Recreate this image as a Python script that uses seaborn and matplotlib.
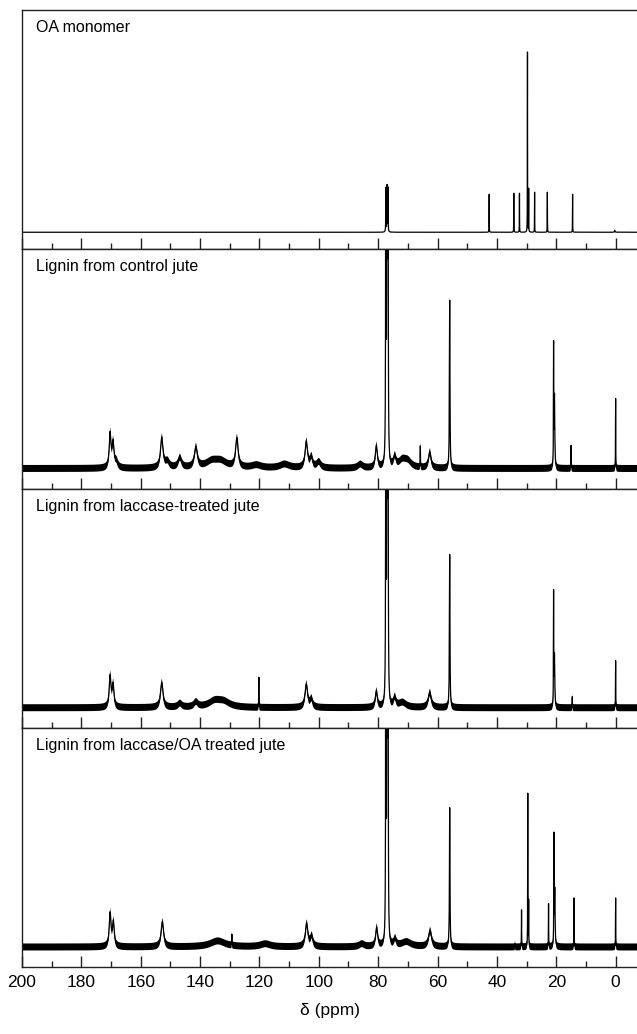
import numpy as np
import pandas as pd
import seaborn as sns
import matplotlib.pyplot as plt
from matplotlib.ticker import MultipleLocator

##############################################################################
# 13C NMR spectra, peaks
# heights are in pixels above the local baseline, widths are HWHM in ppm

titles = ["OA monomer",
          "Lignin from control jute",
          "Lignin from laccase-treated jute",
          "Lignin from laccase/OA treated jute"]

oa_pos = [77.4, 77.0, 76.7, 42.6, 34.3, 32.4, 29.7, 29.3, 27.3, 23.0, 14.5, 0.3]
oa_h   = [44, 46, 44, 38, 39, 39, 180, 43, 40, 40, 38, 2]
oa_w   = [0.05, 0.05, 0.05, 0.03, 0.03, 0.03, 0.03, 0.03, 0.03, 0.03, 0.03, 0.1]

ctrl_pos = [170.3, 169.3, 168.2, 152.9, 151.0, 146.8, 141.4, 136.0, 133.0, 127.6,
            121.0, 111.5, 104.2, 102.5, 100.0, 86.0, 80.6, 77.4, 77.0, 76.7,
            74.4, 71.8, 70.0, 65.8, 62.6, 55.9, 20.9, 20.6, 15.0, 0.0]
ctrl_h   = [34, 24, 6, 30, 6, 10, 20, 6, 6, 29,
            3, 4, 26, 10, 6, 4, 22, 1000, 1000, 1000,
            10, 7, 6, 21, 16, 168, 118, 72, 23, 70]
ctrl_w   = [0.35, 0.35, 0.6, 0.5, 0.8, 0.7, 0.6, 2.5, 2.5, 0.5,
            2.0, 2.0, 0.5, 0.5, 0.8, 1.0, 0.4, 0.05, 0.05, 0.05,
            0.5, 1.5, 1.5, 0.05, 0.5, 0.1, 0.05, 0.12, 0.04, 0.04]

lac_pos = [170.3, 169.3, 152.9, 146.8, 141.4, 135.0, 132.0, 120.2, 104.2, 102.5,
           80.6, 77.4, 77.0, 76.7, 74.4, 71.8, 62.6, 55.9, 20.9, 20.6, 14.6, 0.0]
lac_h   = [31, 22, 25, 4, 5, 6, 5, 30, 23, 8,
           16, 1000, 1000, 1000, 9, 5, 15, 153, 111, 52, 11, 47]
lac_w   = [0.35, 0.35, 0.5, 0.8, 0.8, 2.5, 2.5, 0.04, 0.5, 0.5,
           0.4, 0.05, 0.05, 0.05, 0.5, 1.5, 0.6, 0.1, 0.05, 0.12, 0.04, 0.04]

oat_pos = [170.3, 169.2, 152.7, 134.0, 129.3, 118.0, 104.1, 102.4, 85.5, 80.5,
           77.4, 77.0, 76.7, 74.3, 70.5, 62.5, 55.9, 33.9, 31.7, 29.6,
           29.3, 22.6, 20.8, 20.5, 14.0, 0.0]
oat_h   = [33, 24, 25, 6, 11, 3, 23, 10, 3, 19,
           1000, 1000, 1000, 7, 5, 16, 139, 3, 37, 153,
           45, 43, 107, 57, 49, 49]
oat_w   = [0.35, 0.35, 0.5, 3.0, 0.04, 2.0, 0.5, 0.5, 1.0, 0.4,
           0.05, 0.05, 0.05, 0.5, 2.0, 0.6, 0.1, 0.05, 0.04, 0.04,
           0.04, 0.04, 0.05, 0.12, 0.04, 0.04]

peaks = [(oa_pos, oa_h, oa_w), (ctrl_pos, ctrl_h, ctrl_w),
         (lac_pos, lac_h, lac_w), (oat_pos, oat_h, oat_w)]

noise = [0, 3.5, 3.5, 3.5]    # half thickness of the noisy baseline, px
base = [17, 20, 20, 20]       # baseline distance above panel bottom, px

##############################################################################

def spectrum(x, pos, h, w):
    y = np.zeros_like(x)
    for p, a, g in zip(pos, h, w):
        y += a * g**2 / ((x - p)**2 + g**2)
    return y

ppm = np.arange(-8, 201, 0.005)

sns.set_theme(style="ticks")
plt.rcParams['font.family'] = ['Liberation Sans', 'DejaVu Sans']

fig, axes = plt.subplots(4, 1, sharex=True, figsize=(6.37, 10.34), dpi=100)
fig.subplots_adjust(left=22/637, right=1.0, top=1-10/1034, bottom=1-967/1034, hspace=0)
panel_h = (967 - 10) / 4

for i, ax in enumerate(axes):
    pos, h, w = peaks[i]
    df = pd.DataFrame({'ppm': ppm, 'I': spectrum(ppm, pos, h, w)})
    if noise[i] > 0:
        ax.fill_between(df.ppm, df.I - noise[i], df.I + noise[i], color='black', lw=0)
    sns.lineplot(data=df, x='ppm', y='I', ax=ax, color='black', lw=0.9,
                 estimator=None, sort=False)
    ax.set_ylim(-base[i], panel_h - base[i])
    ax.set_ylabel('')
    ax.set_yticks([])
    ax.text(14/615, 1 - 17.5/panel_h, titles[i], transform=ax.transAxes,
            ha='left', va='center', fontsize=11.5, color='black')
    for s in ['top', 'bottom', 'left']:
        ax.spines[s].set_color('#222222')
        ax.spines[s].set_linewidth(1.0)
    ax.spines['right'].set_visible(False)
    ax.xaxis.set_major_locator(MultipleLocator(20))
    ax.xaxis.set_minor_locator(MultipleLocator(10))
    ax.tick_params(axis='x', which='major', direction='in', length=8, width=1,
                   color='#222222', labelcolor='black', top=False, labelsize=12.5, pad=6)
    ax.tick_params(axis='x', which='minor', direction='in', length=4, width=1,
                   color='#222222', top=False)
    ax.tick_params(axis='y', left=False)

axes[-1].set_xlim(200, -7.2)
axes[-1].set_xticks(np.arange(200, -1, -20))
axes[-1].set_xlabel('δ (ppm)', fontsize=12.5, labelpad=9, color='black')

plt.savefig('out.png', dpi=100)
